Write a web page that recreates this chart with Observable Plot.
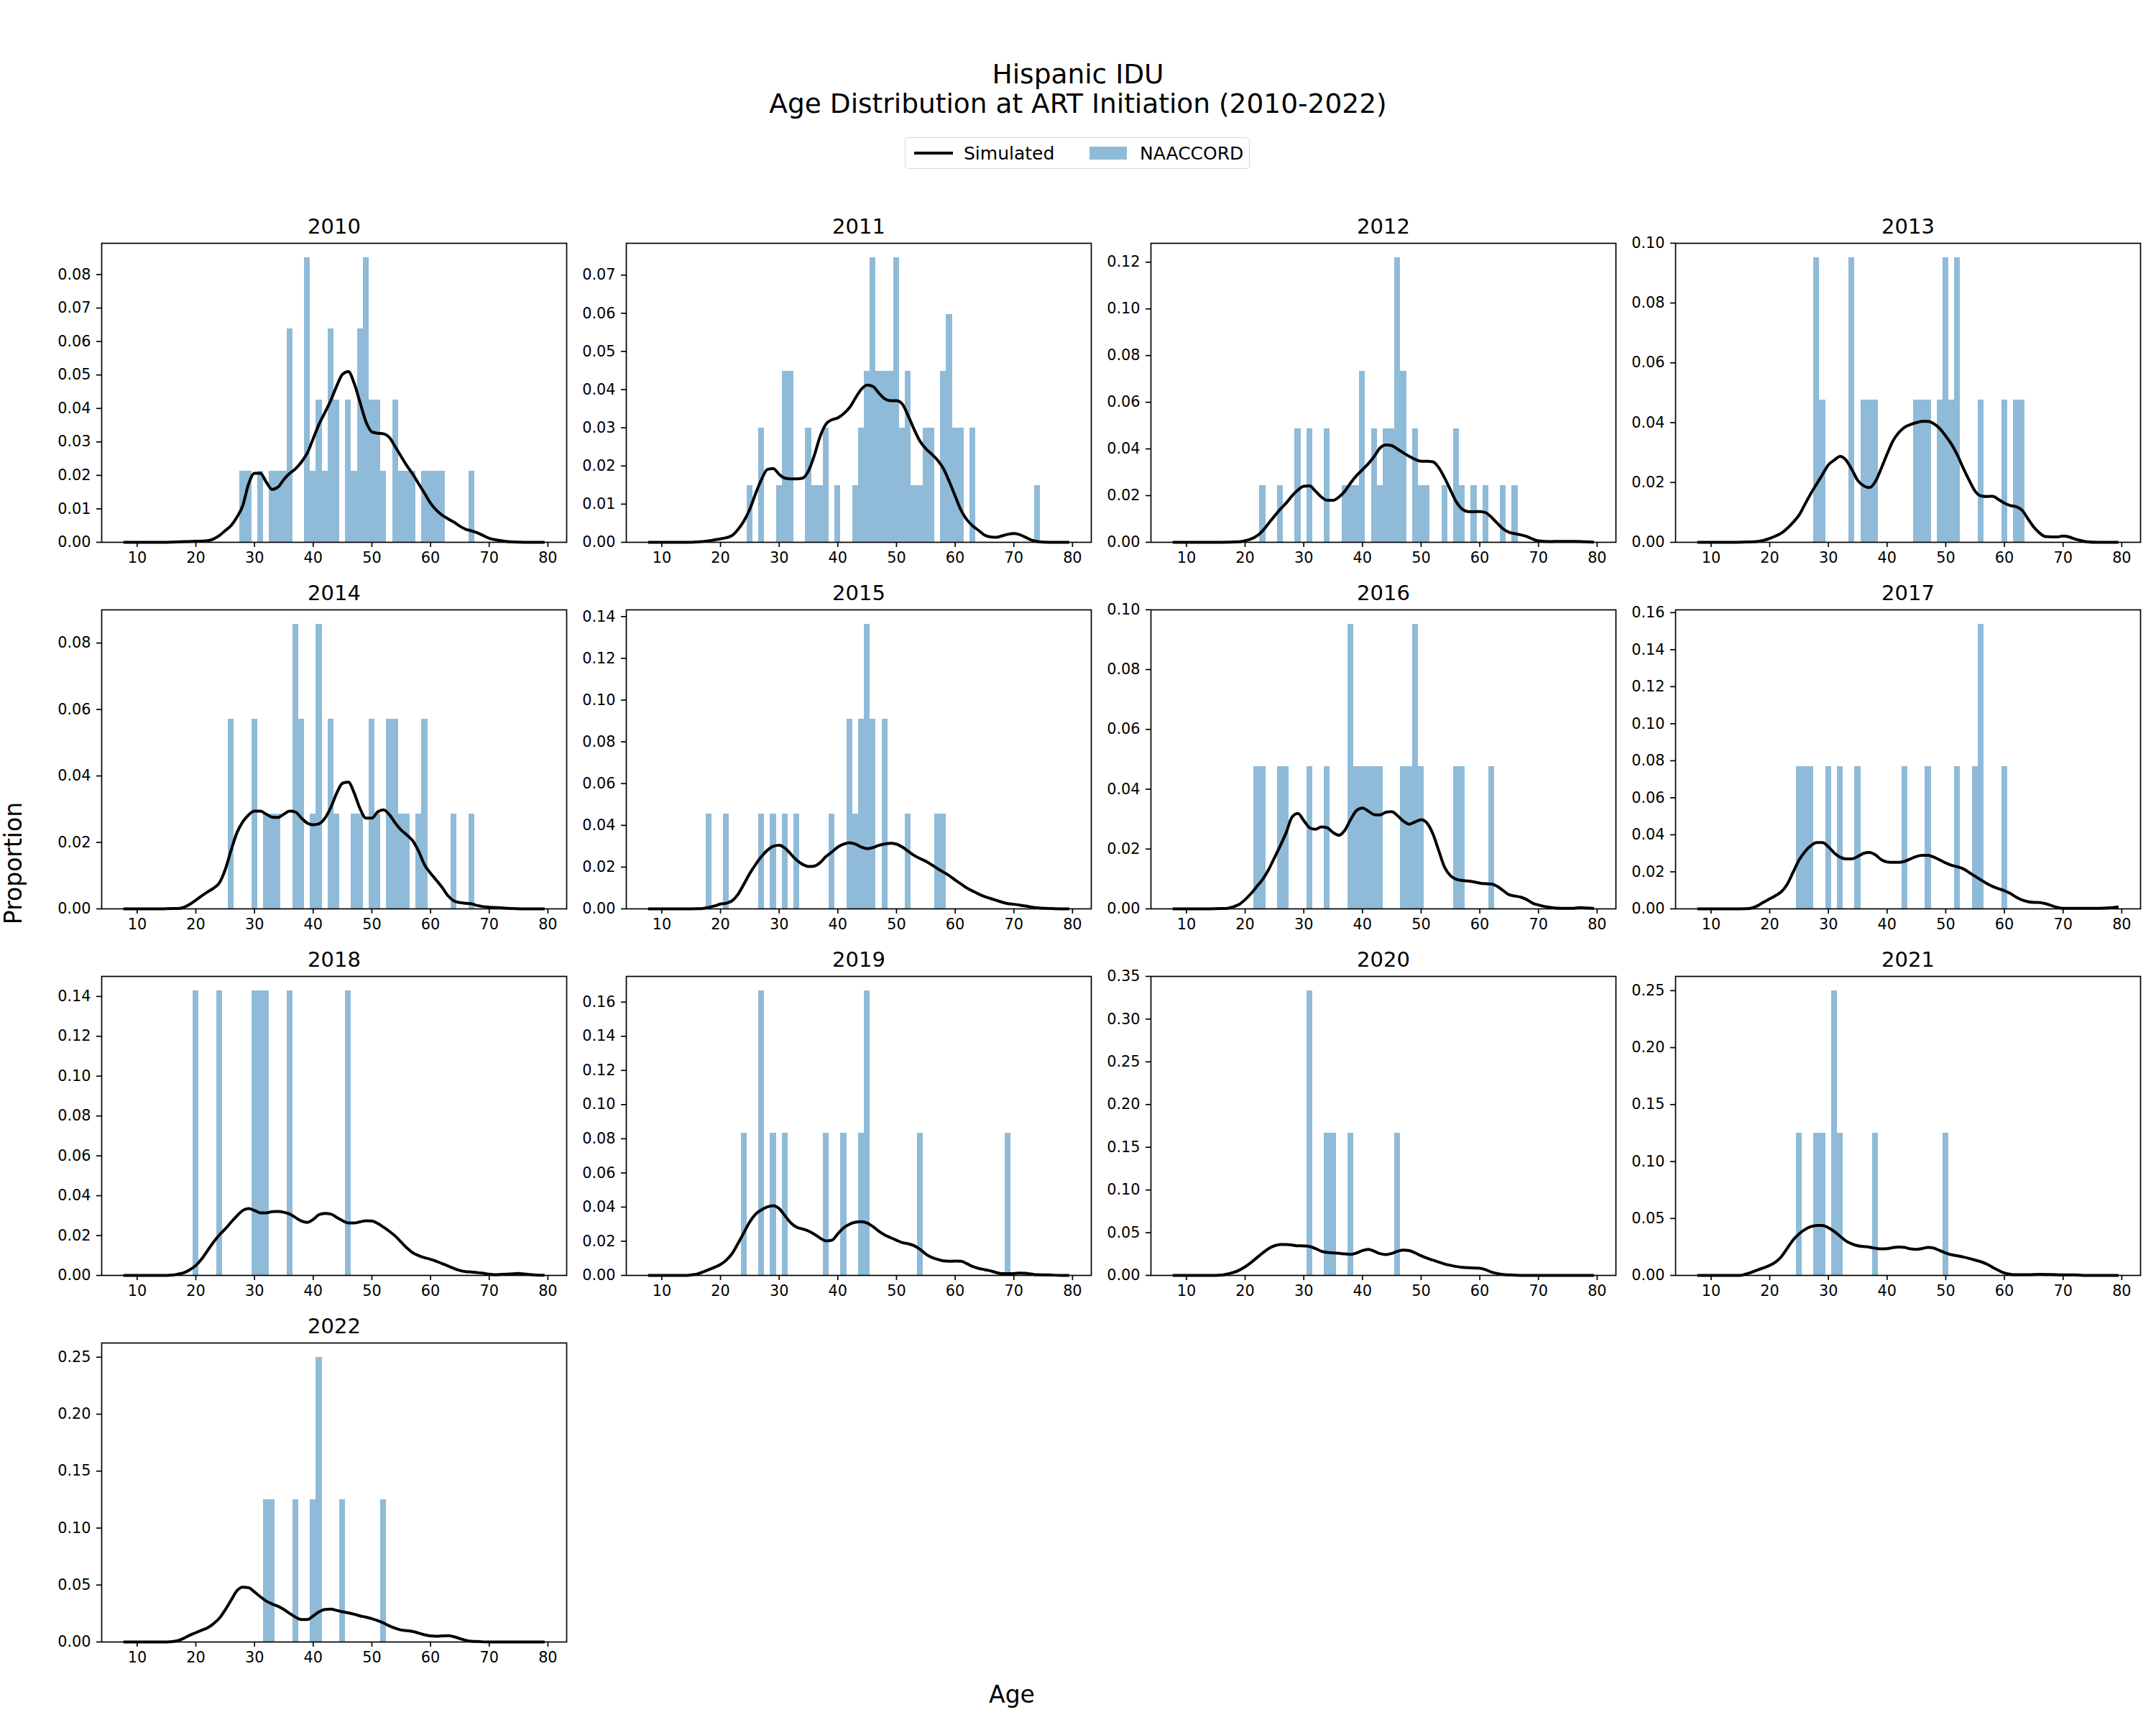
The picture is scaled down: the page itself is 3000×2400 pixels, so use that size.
<!DOCTYPE html>
<html>
<head>
<meta charset="utf-8">
<script src="https://cdn.jsdelivr.net/npm/d3@7"></script>
<script src="https://cdn.jsdelivr.net/npm/@observablehq/plot@0.6"></script>
<style>
  body { margin: 0; background: #fff; }
  #fig { position: relative; width: 3000px; height: 2400px; background: #fff;
         font-family: "DejaVu Sans", sans-serif; color: #000; overflow: hidden; }
  .abs { position: absolute; white-space: nowrap; line-height: 1; }
  .center { transform: translate(-50%, -50%); }
</style>
</head>
<body>
<div id="fig"></div>
<script>
// ---- Shared axis ticks ----
const ageTicks = [10, 20, 30, 40, 50, 60, 70, 80];
const years = [2010, 2011, 2012, 2013, 2014, 2015, 2016, 2017, 2018, 2019, 2020, 2021, 2022];

// ---- NAACCORD observed proportions: [age, proportion] ----
const naaccord2010 = [[28,.0213],[29,.0213],[31,.0213],[33,.0213],[34,.0213],[35,.0213],[36,.0638],[39,.0851],[40,.0213],[41,.0426],[42,.0213],[43,.0638],[44,.0426],[46,.0426],[47,.0213],[48,.0638],[49,.0851],[50,.0426],[51,.0426],[52,.0213],[54,.0426],[55,.0213],[56,.0213],[57,.0213],[59,.0213],[60,.0213],[61,.0213],[62,.0213],[67,.0213]];
const naaccord2011 = [[25,.0149],[27,.0299],[30,.0149],[31,.0448],[32,.0448],[35,.0299],[36,.0149],[37,.0149],[38,.0299],[40,.0149],[43,.0149],[44,.0299],[45,.0448],[46,.0746],[47,.0448],[48,.0448],[49,.0448],[50,.0746],[51,.0299],[52,.0448],[53,.0149],[54,.0149],[55,.0299],[56,.0299],[58,.0448],[59,.0597],[60,.0299],[61,.0299],[63,.0299],[74,.0149]];
const naaccord2012 = [[23,.0244],[26,.0244],[29,.0488],[31,.0488],[34,.0488],[37,.0244],[38,.0244],[39,.0244],[40,.0732],[42,.0488],[43,.0244],[44,.0488],[45,.0488],[46,.1220],[47,.0732],[49,.0488],[50,.0244],[51,.0244],[54,.0244],[56,.0488],[57,.0244],[59,.0244],[61,.0244],[64,.0244],[66,.0244]];
const naaccord2013 = [[28,.0952],[29,.0476],[34,.0952],[36,.0476],[37,.0476],[38,.0476],[45,.0476],[46,.0476],[47,.0476],[49,.0476],[50,.0952],[51,.0476],[52,.0952],[56,.0476],[60,.0476],[62,.0476],[63,.0476]];
const naaccord2014 = [[26,.0571],[30,.0571],[32,.0286],[33,.0286],[34,.0286],[37,.0857],[38,.0571],[40,.0286],[41,.0857],[43,.0571],[44,.0286],[47,.0286],[48,.0286],[50,.0571],[51,.0286],[53,.0571],[54,.0571],[55,.0286],[56,.0286],[58,.0286],[59,.0571],[64,.0286],[67,.0286]];
const naaccord2015 = [[18,.0455],[21,.0455],[27,.0455],[29,.0455],[31,.0455],[33,.0455],[39,.0455],[42,.0909],[43,.0455],[44,.0909],[45,.1364],[46,.0909],[48,.0909],[52,.0455],[57,.0455],[58,.0455]];
const naaccord2016 = [[22,.0476],[23,.0476],[26,.0476],[27,.0476],[31,.0476],[34,.0476],[38,.0952],[39,.0476],[40,.0476],[41,.0476],[42,.0476],[43,.0476],[47,.0476],[48,.0476],[49,.0952],[50,.0476],[56,.0476],[57,.0476],[62,.0476]];
const naaccord2017 = [[25,.0769],[26,.0769],[27,.0769],[30,.0769],[32,.0769],[35,.0769],[43,.0769],[47,.0769],[52,.0769],[55,.0769],[56,.1538],[60,.0769]];
const naaccord2018 = [[20,.1429],[24,.1429],[30,.1429],[31,.1429],[32,.1429],[36,.1429],[46,.1429]];
const naaccord2019 = [[24,.0833],[27,.1667],[29,.0833],[31,.0833],[38,.0833],[41,.0833],[44,.0833],[45,.1667],[54,.0833],[69,.0833]];
const naaccord2020 = [[31,.3333],[34,.1667],[35,.1667],[38,.1667],[46,.1667]];
const naaccord2021 = [[25,.125],[28,.125],[29,.125],[31,.25],[32,.125],[38,.125],[50,.125]];
const naaccord2022 = [[32,.125],[33,.125],[37,.125],[40,.125],[41,.25],[45,.125],[52,.125]];

// ---- Simulated age density: [age, density] ----
const simulated2010 = [[7.9,0],[14,0],[18,.0002],[20,.0003],[22,.0005],[23,.001],[24,.002],[25,.0035],[26,.005],[27,.0075],[28,.011],[29,.0175],[30,.0206],[31,.0206],[32,.018],[33,.0158],[34,.0165],[35,.0188],[36,.0206],[37,.022],[38,.024],[39,.0267],[40,.031],[41,.0353],[42,.0388],[43,.0424],[44,.0467],[45,.0502],[46,.051],[47,.0474],[48,.0417],[49,.036],[50,.033],[51,.0326],[52,.0324],[53,.0313],[54,.0285],[55,.0256],[56,.0228],[57,.0203],[58,.0174],[59,.0146],[60,.0117],[61,.0096],[62,.0081],[63,.007],[64,.006],[65,.0048],[66,.0039],[67,.0034],[68,.0028],[69,.002],[70,.0012],[72,.0005],[74,.0001],[76,0],[79.2,0]];
const simulated2011 = [[7.9,0],[14,0],[16,.0001],[18,.0004],[20,.0009],[21,.0012],[22,.0018],[23,.0034],[24,.0056],[25,.0087],[26,.0128],[27,.0165],[28,.0191],[29,.0193],[30,.0178],[31,.0168],[32,.0166],[33,.0166],[34,.0168],[35,.0187],[36,.0228],[37,.0278],[38,.031],[39,.0321],[40,.0326],[41,.0337],[42,.0353],[43,.0378],[44,.0401],[45,.0412],[46,.0408],[47,.0391],[48,.0376],[49,.0371],[50,.0371],[51,.0362],[52,.0331],[53,.0296],[54,.0265],[55,.0245],[56,.0231],[57,.0215],[58,.0193],[59,.0159],[60,.0121],[61,.0084],[62,.0059],[63,.0043],[64,.0031],[65,.0019],[66,.0014],[67,.0013],[68,.0017],[69,.0021],[70,.0023],[71,.002],[72,.0013],[73,.0006],[74,.0002],[76,0],[79.2,0]];
const simulated2012 = [[7.9,0],[16,0],[19,.0002],[20,.0007],[21,.0014],[22,.0027],[23,.005],[24,.0081],[25,.0112],[26,.0142],[27,.0168],[28,.0199],[29,.0224],[30,.024],[31,.0242],[32,.0219],[33,.0194],[34,.018],[35,.018],[36,.0194],[37,.0219],[38,.0255],[39,.0286],[40,.0311],[41,.0337],[42,.0368],[43,.0404],[44,.0417],[45,.0414],[46,.0399],[47,.0383],[48,.0368],[49,.0355],[50,.0347],[51,.0347],[52,.0345],[53,.032],[54,.0276],[55,.0224],[56,.0173],[57,.0142],[58,.0132],[59,.0131],[60,.0132],[61,.0127],[62,.0107],[63,.0081],[64,.0057],[65,.0043],[66,.0037],[67,.0032],[68,.0025],[69,.0014],[70,.0006],[72,.0003],[74,.0004],[76,.0004],[78,.0002],[79.2,.0001]];
const simulated2013 = [[7.9,0],[14,0],[16,.0001],[18,.0003],[19,.0007],[20,.0013],[21,.0021],[22,.0031],[23,.0047],[24,.0067],[25,.0091],[26,.0127],[27,.0163],[28,.0195],[29,.0227],[30,.0259],[31,.0275],[32,.0287],[33,.0275],[34,.0243],[35,.0207],[36,.0189],[37,.0183],[38,.0203],[39,.0247],[40,.0295],[41,.0339],[42,.0367],[43,.0385],[44,.0394],[45,.04],[46,.0404],[47,.0404],[48,.0396],[49,.038],[50,.0355],[51,.0327],[52,.0291],[53,.0247],[54,.0207],[55,.0171],[56,.0155],[57,.0153],[58,.0154],[59,.0143],[60,.0131],[61,.0123],[62,.0119],[63,.0107],[64,.0079],[65,.0051],[66,.0031],[67,.0019],[68,.0018],[69,.0018],[70,.0021],[71,.0018],[72,.0011],[73,.0006],[74,.0002],[76,0],[79.2,0]];
const simulated2014 = [[7.9,0],[14,0],[16,.0001],[17,.0001],[18,.0005],[19,.0014],[20,.0026],[21,.0039],[22,.0051],[23,.0062],[24,.0078],[25,.0118],[26,.0176],[27,.0229],[28,.0262],[29,.0283],[30,.0294],[31,.0294],[32,.0285],[33,.0276],[34,.0275],[35,.0285],[36,.0294],[37,.0291],[38,.0273],[39,.0258],[40,.0253],[41,.0256],[42,.0273],[43,.0305],[44,.0348],[45,.0378],[46,.0381],[47,.0348],[48,.0301],[49,.0273],[50,.0273],[51,.0292],[52,.0298],[53,.0283],[54,.0258],[55,.0237],[56,.0222],[57,.0204],[58,.0172],[59,.0132],[60,.0107],[61,.0086],[62,.0064],[63,.0039],[64,.0024],[65,.0019],[66,.0017],[67,.0015],[68,.001],[70,.0005],[72,.0003],[74,.0001],[76,0],[79.2,0]];
const simulated2015 = [[7.9,0],[14,0],[16,.0001],[17,.0002],[18,.0007],[19,.0014],[20,.0023],[21,.0027],[22,.0039],[23,.007],[24,.0119],[25,.017],[26,.0213],[27,.0251],[28,.0281],[29,.03],[30,.0305],[31,.0291],[32,.0262],[33,.0233],[34,.0213],[35,.0203],[36,.0205],[37,.0222],[38,.0251],[39,.0273],[40,.0296],[41,.031],[42,.0317],[43,.031],[44,.0296],[45,.0288],[46,.0294],[47,.0304],[48,.0311],[49,.0314],[50,.031],[51,.0296],[52,.0276],[53,.0256],[54,.0241],[55,.0228],[56,.0211],[57,.0193],[58,.0176],[59,.0159],[60,.0138],[61,.0119],[62,.01],[63,.0085],[64,.0071],[65,.0059],[66,.005],[67,.0041],[68,.0032],[69,.0025],[70,.0022],[71,.0018],[72,.0014],[73,.0009],[74,.0005],[76,.0002],[78,0],[79.2,0]];
const simulated2016 = [[7.9,0],[14,0],[16,.0001],[17,.0002],[18,.0007],[19,.0015],[20,.0031],[21,.0051],[22,.0075],[23,.0099],[24,.0131],[25,.0171],[26,.0211],[27,.0255],[28,.0307],[29,.0319],[30,.0295],[31,.0271],[32,.0266],[33,.0274],[34,.0271],[35,.0255],[36,.0246],[37,.0263],[38,.0299],[39,.0329],[40,.0337],[41,.0327],[42,.0315],[43,.0314],[44,.0323],[45,.0325],[46,.0311],[47,.0293],[48,.0283],[49,.0291],[50,.0298],[51,.0287],[52,.0251],[53,.0195],[54,.0139],[55,.0111],[56,.0099],[57,.0095],[58,.0093],[59,.009],[60,.0086],[61,.0084],[62,.0083],[63,.0075],[64,.0061],[65,.0047],[66,.0043],[67,.0039],[68,.0031],[69,.0019],[70,.0013],[72,.0005],[74,.0002],[76,.0002],[77,.0004],[78,.0003],[79.2,.0002]];
const simulated2017 = [[7.9,0],[14,0],[16,.0001],[17,.0005],[18,.0018],[19,.0037],[20,.0054],[21,.0072],[22,.0093],[23,.0134],[24,.0199],[25,.0264],[26,.0309],[27,.0341],[28,.0358],[29,.0358],[30,.0335],[31,.0302],[32,.0279],[33,.027],[34,.027],[35,.0283],[36,.03],[37,.0305],[38,.0292],[39,.0266],[40,.0253],[41,.0251],[42,.0251],[43,.0257],[44,.027],[45,.0283],[46,.0289],[47,.0289],[48,.0279],[49,.0264],[50,.0248],[51,.0235],[52,.0227],[53,.0216],[54,.0196],[55,.0176],[56,.0156],[57,.0137],[58,.0121],[59,.0109],[60,.0098],[61,.0083],[62,.0063],[63,.0048],[64,.0039],[65,.0035],[66,.0034],[67,.0028],[68,.0018],[69,.0008],[70,.0003],[72,.0003],[74,.0003],[76,.0003],[78,.0006],[79.2,.001]];
const simulated2018 = [[7.9,0],[14,0],[16,.0002],[17,.0007],[18,.0014],[19,.0029],[20,.005],[21,.0083],[22,.0125],[23,.0167],[24,.0203],[25,.0233],[26,.0267],[27,.0299],[28,.0326],[29,.0335],[30,.0326],[31,.0314],[32,.0314],[33,.032],[34,.0321],[35,.0317],[36,.0308],[37,.029],[38,.0273],[39,.0266],[40,.0281],[41,.0305],[42,.0311],[43,.0308],[44,.0291],[45,.0275],[46,.0263],[47,.0263],[48,.0269],[49,.0274],[50,.0273],[51,.0261],[52,.0242],[53,.0221],[54,.0197],[55,.0167],[56,.0137],[57,.0113],[58,.0099],[59,.0089],[60,.0081],[61,.0071],[62,.0059],[63,.0047],[64,.0035],[65,.0025],[66,.0019],[67,.0017],[68,.0014],[69,.0011],[70,.0006],[71,.0004],[72,.0005],[74,.0008],[75,.001],[76,.0007],[78,.0002],[79.2,.0001]];
const simulated2019 = [[7.9,0],[14,0],[15,.0003],[16,.0008],[17,.002],[18,.0034],[19,.0048],[20,.0064],[21,.009],[22,.0129],[23,.0188],[24,.0251],[25,.0314],[26,.0359],[27,.0384],[28,.0401],[29,.0408],[30,.0391],[31,.0349],[32,.0307],[33,.0282],[34,.0272],[35,.026],[36,.0241],[37,.0218],[38,.0202],[39,.0206],[40,.0244],[41,.0279],[42,.03],[43,.0311],[44,.0314],[45,.0307],[46,.0286],[47,.0258],[48,.0237],[49,.0221],[50,.0206],[51,.0192],[52,.0185],[53,.0174],[54,.0153],[55,.0125],[56,.0106],[57,.0094],[58,.0085],[59,.0083],[60,.0084],[61,.0083],[62,.0069],[63,.0052],[64,.0041],[65,.0034],[66,.0027],[67,.0017],[68,.001],[69,.001],[70,.0011],[71,.0014],[72,.0013],[73,.0008],[74,.0004],[76,.0003],[78,0],[79.2,0]];
const simulated2020 = [[7.9,0],[15,0],[16,.0004],[17,.0017],[18,.0034],[19,.0062],[20,.0101],[21,.0151],[22,.0207],[23,.0263],[24,.0314],[25,.0347],[26,.0361],[27,.0361],[28,.0356],[29,.0347],[30,.0345],[31,.0339],[32,.0314],[33,.0283],[34,.0269],[35,.0263],[36,.0258],[37,.0252],[38,.0247],[39,.0263],[40,.0291],[41,.0305],[42,.0283],[43,.0255],[44,.0244],[45,.0258],[46,.0283],[47,.0297],[48,.0291],[49,.0263],[50,.023],[51,.0202],[52,.0179],[53,.0157],[54,.0134],[55,.0118],[56,.0104],[57,.0095],[58,.009],[59,.0087],[60,.0084],[61,.0067],[62,.0039],[63,.0022],[64,.0011],[65,.0006],[67,0],[79.2,0]];
const simulated2021 = [[7.9,0],[15,0],[16,.0013],[17,.0029],[18,.005],[19,.0067],[20,.0088],[21,.0118],[22,.0166],[23,.0239],[24,.0313],[25,.0365],[26,.0403],[27,.0428],[28,.0439],[29,.0439],[30,.0418],[31,.0386],[32,.0344],[33,.0302],[34,.0277],[35,.026],[36,.0254],[37,.0248],[38,.0239],[39,.0233],[40,.0235],[41,.0244],[42,.025],[43,.0246],[44,.0233],[45,.0229],[46,.0237],[47,.0246],[48,.0239],[49,.0218],[50,.0197],[51,.0181],[52,.0172],[53,.0162],[54,.0149],[55,.0134],[56,.012],[57,.0099],[58,.0071],[59,.0044],[60,.0021],[61,.001],[62,.0006],[64,.0006],[66,.001],[68,.0008],[70,.0004],[72,.0004],[74,0],[79.2,0]];
const simulated2022 = [[7.9,0],[15,0],[16,.0003],[17,.0013],[18,.0034],[19,.0061],[20,.0082],[21,.0103],[22,.0124],[23,.016],[24,.0208],[25,.0282],[26,.0366],[27,.045],[28,.0481],[29,.0477],[30,.0439],[31,.0397],[32,.0359],[33,.0334],[34,.0313],[35,.0286],[36,.025],[37,.0218],[38,.0197],[39,.0197],[40,.0229],[41,.0265],[42,.0286],[43,.0288],[44,.0277],[45,.0265],[46,.0256],[47,.0244],[48,.0229],[49,.0218],[50,.0204],[51,.0187],[52,.0166],[53,.0141],[54,.012],[55,.0105],[56,.0099],[57,.0092],[58,.0078],[59,.0063],[60,.0053],[61,.005],[62,.0053],[63,.0055],[64,.0046],[65,.0029],[66,.0015],[67,.0006],[68,.0004],[70,0],[79.2,0]];

// ---- Proportion tick labels per panel ----
const yTicks2010 = [0, .01, .02, .03, .04, .05, .06, .07, .08];
const yTicks2011 = [0, .01, .02, .03, .04, .05, .06, .07];
const yTicks2012 = [0, .02, .04, .06, .08, .10, .12];
const yTicks2013 = [0, .02, .04, .06, .08, .10];
const yTicks2014 = [0, .02, .04, .06, .08];
const yTicks2015 = [0, .02, .04, .06, .08, .10, .12, .14];
const yTicks2016 = [0, .02, .04, .06, .08, .10];
const yTicks2017 = [0, .02, .04, .06, .08, .10, .12, .14, .16];
const yTicks2018 = [0, .02, .04, .06, .08, .10, .12, .14];
const yTicks2019 = [0, .02, .04, .06, .08, .10, .12, .14, .16];
const yTicks2020 = [0, .05, .10, .15, .20, .25, .30, .35];
const yTicks2021 = [0, .05, .10, .15, .20, .25];
const yTicks2022 = [0, .05, .10, .15, .20, .25];

const panels = [
  [naaccord2010, simulated2010, yTicks2010], [naaccord2011, simulated2011, yTicks2011],
  [naaccord2012, simulated2012, yTicks2012], [naaccord2013, simulated2013, yTicks2013],
  [naaccord2014, simulated2014, yTicks2014], [naaccord2015, simulated2015, yTicks2015],
  [naaccord2016, simulated2016, yTicks2016], [naaccord2017, simulated2017, yTicks2017],
  [naaccord2018, simulated2018, yTicks2018], [naaccord2019, simulated2019, yTicks2019],
  [naaccord2020, simulated2020, yTicks2020], [naaccord2021, simulated2021, yTicks2021],
  [naaccord2022, simulated2022, yTicks2022]
].map(([bars, kde, ticks], i) => ({year: years[i], bars, kde, ticks}));

// ---- Layout (pixels) ----
const colLeft = [141, 871, 1601, 2331];
const rowTop = [338, 848, 1358, 1868];
const PW = 647, PH = 416;
const ML = 120, MR = 20, MT = 70, MB = 60;
const BLUE = "#1f77b4";
const fig = document.getElementById("fig");

function addText(txt, x, y, size, extra = "") {
  const el = document.createElement("div");
  el.className = "abs center";
  el.style.cssText += `left:${x}px;top:${y}px;font-size:${size}px;${extra}`;
  el.textContent = txt;
  fig.appendChild(el);
  return el;
}

// Title
addText("Hispanic IDU", 1500, 104, 37.5);
addText("Age Distribution at ART Initiation (2010-2022)", 1500, 145, 37.5);

// Legend
const legend = document.createElement("div");
legend.className = "abs";
legend.style.cssText += "left:1259px;top:191px;width:480px;height:44px;border:1.6px solid #d6d6d6;border-radius:5px;box-sizing:border-box;background:#fff;";
fig.appendChild(legend);
const sw1 = document.createElement("div");
sw1.className = "abs";
sw1.style.cssText += "left:1272px;top:211px;width:54px;height:4px;background:#000;";
fig.appendChild(sw1);
addText("Simulated", 1341, 213, 25, "transform:translate(0,-50%);");
const sw2 = document.createElement("div");
sw2.className = "abs";
sw2.style.cssText += `left:1516px;top:204px;width:52px;height:18px;background:${BLUE};opacity:0.5;`;
fig.appendChild(sw2);
addText("NAACCORD", 1586, 213, 25, "transform:translate(0,-50%);");

// Shared axis labels
addText("Age", 1408, 2357, 33);
addText("Proportion", 18, 1201, 33, "transform:translate(-50%,-50%) rotate(-90deg);");

// Panels
panels.forEach((p, i) => {
  const col = i % 4, row = Math.floor(i / 4);
  const top = d3.max([...p.bars.map(d => d[1]), ...p.kde.map(d => d[1])]) * 1.05;
  const chart = Plot.plot({
    width: ML + PW + MR,
    height: MT + PH + MB,
    marginLeft: ML, marginRight: MR, marginTop: MT, marginBottom: MB,
    style: {fontFamily: "DejaVu Sans", background: "transparent", color: "#000", overflow: "visible"},
    x: {domain: [3.95, 83.2]},
    y: {domain: [0, top]},
    marks: [
      Plot.rect(p.bars, {
        x1: d => d[0] - 0.5, x2: d => d[0] + 0.5, y1: 0, y2: d => d[1],
        fill: BLUE, fillOpacity: 0.5, shapeRendering: "crispEdges"
      }),
      Plot.line(p.kde, {
        x: d => d[0], y: d => d[1], stroke: "#000", strokeWidth: 4,
        curve: "monotone-x", strokeLinejoin: "round", strokeLinecap: "square"
      }),
      Plot.frame({stroke: "#000", strokeWidth: 1.7}),
      Plot.axisX(ageTicks, {
        tickSize: 7, tickPadding: 7, fontSize: 20.8, strokeWidth: 1.7,
        tickFormat: d => String(d), label: null
      }),
      Plot.axisY(p.ticks, {
        tickSize: 7, tickPadding: 8, fontSize: 20.8, strokeWidth: 1.7,
        tickFormat: d3.format(".2f"), label: null
      }),
      Plot.text([String(p.year)], {frameAnchor: "top", dy: -34, fontSize: 29, fill: "#000"})
    ]
  });
  chart.style.position = "absolute";
  chart.style.left = (colLeft[col] - ML) + "px";
  chart.style.top = (rowTop[row] - MT) + "px";
  chart.style.maxWidth = "none";
  fig.appendChild(chart);
});
</script>
</body>
</html>
